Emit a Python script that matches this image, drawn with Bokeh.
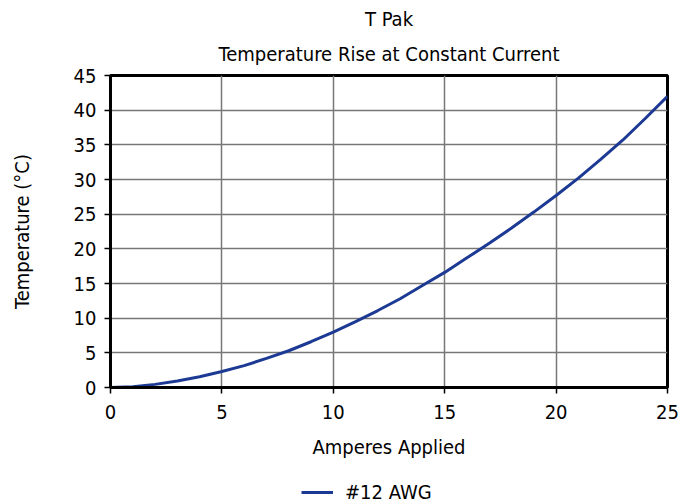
from bokeh.plotting import figure
from bokeh.layouts import column
from bokeh.models import Title, Legend, LegendItem, FixedTicker, Range1d
from bokeh.embed import file_html
from bokeh.resources import INLINE

amperes = [0, 1, 2, 3, 4, 5, 6, 7, 8, 9, 10, 11, 12, 13, 14, 15, 16, 17, 18, 19, 20, 21, 22, 23, 24, 25]
temperature = [0, 0.1, 0.45, 0.95, 1.55, 2.3, 3.15, 4.2, 5.3, 6.6, 8.0, 9.5, 11.1, 12.8, 14.7, 16.6,
               18.7, 20.8, 23.0, 25.3, 27.7, 30.2, 32.9, 35.7, 38.8, 42.0]
x_ticks = [0, 5, 10, 15, 20, 25]
y_ticks = [0, 5, 10, 15, 20, 25, 30, 35, 40, 45]
series_name = "#12 AWG"
title_main = "T Pak"
title_sub = "Temperature Rise at Constant Current"

FONT = "DejaVu Sans Condensed"
LINE_COLOR = "#1c3a94"

p = figure(width=686, height=480, output_backend="svg", toolbar_location=None,
           x_range=Range1d(0, 25), y_range=Range1d(0, 45),
           min_border_left=110, min_border_right=19, min_border_top=75, min_border_bottom=93)

t2 = Title(text=title_sub, align="center", text_font=FONT,
           text_font_size="20px", text_font_style="normal", text_color="#000000",
           text_line_height=1.0, standoff=19)
t1 = Title(text=title_main, align="center", text_font=FONT, text_font_size="20px",
           text_font_style="normal", text_color="#000000", text_line_height=1.0, standoff=0)
p.add_layout(t2, "above")
p.add_layout(t1, "above")

r = p.line(amperes, temperature, line_color=LINE_COLOR, line_width=3)

p.xaxis.ticker = FixedTicker(ticks=x_ticks)
p.yaxis.ticker = FixedTicker(ticks=y_ticks)
for ax in (p.xaxis, p.yaxis):
    ax.major_label_text_font = FONT
    ax.major_label_text_font_size = "20px"
    ax.major_label_text_color = "#000000"
    ax.axis_label_text_font = FONT
    ax.axis_label_text_font_size = "20px"
    ax.axis_label_text_font_style = "normal"
    ax.axis_label_text_color = "#000000"
    ax.axis_line_color = "#000000"
    ax.axis_line_width = 3
    ax.major_tick_line_color = "#000000"
    ax.major_tick_line_width = 1.5
    ax.major_tick_out = 6
    ax.major_tick_in = 0
    ax.minor_tick_line_color = None
p.xaxis.axis_label = "Amperes Applied"
p.yaxis.axis_label = "Temperature (°C)"
p.xaxis.major_label_standoff = 11
p.yaxis.major_label_standoff = 8
p.xaxis.axis_label_standoff = 13
p.yaxis.axis_label_standoff = 37

p.xgrid.grid_line_color = "#777777"
p.ygrid.grid_line_color = "#777777"
p.xgrid.grid_line_width = 1.5
p.ygrid.grid_line_width = 1.5

p.outline_line_color = "#000000"
p.outline_line_width = 3
p.background_fill_color = "white"
p.border_fill_color = "white"

# Legend strip below the chart (its line renderer lies outside the strip's view)
lg = figure(width=686, height=24, output_backend="svg", toolbar_location=None,
            x_range=Range1d(100, 101), y_range=Range1d(100, 101),
            x_axis_location=None, y_axis_location=None,
            min_border=0, outline_line_color=None)
lg.grid.visible = False
lr = lg.line(amperes, temperature, line_color=LINE_COLOR, line_width=3)
legend = Legend(items=[LegendItem(label=series_name, renderers=[lr])],
                orientation="horizontal", location=(191, 0),
                label_text_font=FONT, label_text_font_size="20px",
                label_text_color="#000000", border_line_color=None,
                background_fill_alpha=0, glyph_width=32, label_standoff=12,
                margin=0, padding=0, label_height=24, glyph_height=24)
lg.add_layout(legend, "center")

layout = column(p, lg, spacing=0)
open("out.html", "w").write(file_html(layout, INLINE))
